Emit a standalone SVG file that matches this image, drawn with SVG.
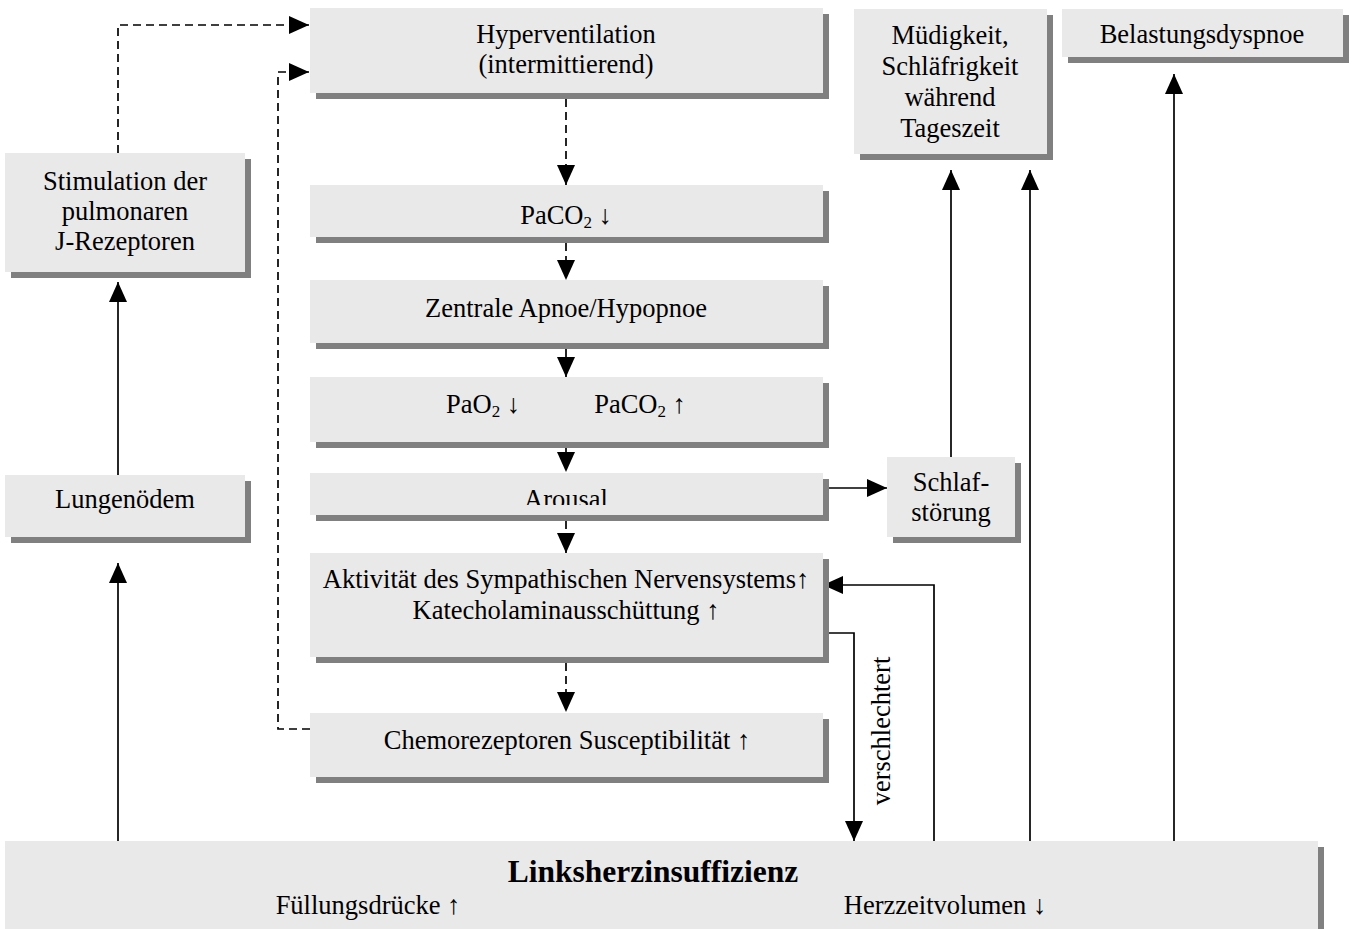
<svg xmlns="http://www.w3.org/2000/svg" width="1354" height="929" viewBox="0 0 1354 929">
<style>
.box{fill:#e9e9e9}
.sh{fill:#808080}
text{font-family:"Liberation Serif","Times New Roman",serif;font-size:26.5px;fill:#000;text-anchor:middle}
.b{font-weight:bold;font-size:31.5px}
.ln{fill:none;stroke:#000;stroke-width:1.7}
.d{stroke-dasharray:8 5}
</style>
<defs>
<marker id="ah" markerUnits="userSpaceOnUse" markerWidth="20" markerHeight="18" refX="20" refY="9" orient="auto" viewBox="0 0 20 18">
<path d="M0,0 L20,9 L0,18 Z" fill="#000"/>
</marker>
<clipPath id="arClip"><rect x="310" y="473" width="513" height="32"/></clipPath>
</defs>
<rect width="1354" height="929" fill="#fff"/>

<g id="connectors">
<path class="ln d" d="M118,153 V25 H309" marker-end="url(#ah)"/>
<path class="ln d" d="M310,729 H278 V72 H309" marker-end="url(#ah)"/>
<path class="ln d" d="M566,99 V185" marker-end="url(#ah)"/>
<path class="ln d" d="M566,243 V280" marker-end="url(#ah)"/>
<path class="ln d" d="M566,349 V377" marker-end="url(#ah)"/>
<path class="ln d" d="M566,448 V472" marker-end="url(#ah)"/>
<path class="ln d" d="M566,521 V553" marker-end="url(#ah)"/>
<path class="ln d" d="M566,663 V712" marker-end="url(#ah)"/>
<path class="ln" d="M823,488 H887" marker-end="url(#ah)"/>
<path class="ln" d="M951,457 V170" marker-end="url(#ah)"/>
<path class="ln" d="M1030,842 V170" marker-end="url(#ah)"/>
<path class="ln" d="M1174,842 V74" marker-end="url(#ah)"/>
<path class="ln" d="M934,842 V585 H823" marker-end="url(#ah)"/>
<path class="ln" d="M823,633 H854 V841" marker-end="url(#ah)"/>
<path class="ln" d="M118,842 V563" marker-end="url(#ah)"/>
<path class="ln" d="M118,475 V282" marker-end="url(#ah)"/>
<text transform="translate(890,731) rotate(-90)">verschlechtert</text>
</g>

<g id="hyperventilation">
<rect class="sh" x="316" y="14" width="513" height="85"/>
<rect class="box" x="310" y="8" width="513" height="85"/>
<text x="566" y="43">Hyperventilation</text>
<text x="566" y="73">(intermittierend)</text>
</g>

<g id="paco2-down">
<rect class="sh" x="316" y="191" width="513" height="52"/>
<rect class="box" x="310" y="185" width="513" height="52"/>
<text x="566" y="224">PaCO<tspan font-size="17" dy="4">2</tspan><tspan dy="-4"> ↓</tspan></text>
</g>

<g id="zentrale-apnoe">
<rect class="sh" x="316" y="286" width="513" height="63"/>
<rect class="box" x="310" y="280" width="513" height="63"/>
<text x="566" y="317">Zentrale Apnoe/Hypopnoe</text>
</g>

<g id="pao2-paco2">
<rect class="sh" x="316" y="383" width="513" height="65"/>
<rect class="box" x="310" y="377" width="513" height="65"/>
<text x="483" y="413">PaO<tspan font-size="17" dy="4">2</tspan><tspan dy="-4"> ↓</tspan></text>
<text x="640" y="413">PaCO<tspan font-size="17" dy="4">2</tspan><tspan dy="-4"> ↑</tspan></text>
</g>

<g id="arousal">
<rect class="sh" x="316" y="479" width="513" height="42"/>
<rect class="box" x="310" y="473" width="513" height="42"/>
<text x="566" y="508" clip-path="url(#arClip)">Arousal</text>
</g>

<g id="sympathikus">
<rect class="sh" x="316" y="559" width="513" height="104"/>
<rect class="box" x="310" y="553" width="513" height="104"/>
<text x="566" y="588">Aktivität des Sympathischen Nervensystems↑</text>
<text x="566" y="619">Katecholaminausschüttung ↑</text>
</g>

<g id="chemorezeptoren">
<rect class="sh" x="316" y="719" width="513" height="64"/>
<rect class="box" x="310" y="713" width="513" height="64"/>
<text x="567" y="749">Chemorezeptoren Susceptibilität ↑</text>
</g>

<g id="j-rezeptoren">
<rect class="sh" x="11" y="159" width="240" height="119"/>
<rect class="box" x="5" y="153" width="240" height="119"/>
<text x="125" y="190">Stimulation der</text>
<text x="125" y="220">pulmonaren</text>
<text x="125" y="250">J-Rezeptoren</text>
</g>

<g id="lungenoedem">
<rect class="sh" x="11" y="481" width="240" height="62"/>
<rect class="box" x="5" y="475" width="240" height="62"/>
<text x="125" y="508">Lungenödem</text>
</g>

<g id="schlafstoerung">
<rect class="sh" x="893" y="463" width="128" height="80"/>
<rect class="box" x="887" y="457" width="128" height="80"/>
<text x="951" y="491">Schlaf-</text>
<text x="951" y="521">störung</text>
</g>

<g id="muedigkeit">
<rect class="sh" x="860" y="15" width="193" height="145"/>
<rect class="box" x="854" y="9" width="193" height="145"/>
<text x="950" y="44">Müdigkeit,</text>
<text x="950" y="75">Schläfrigkeit</text>
<text x="950" y="106">während</text>
<text x="950" y="137">Tageszeit</text>
</g>

<g id="belastungsdyspnoe">
<rect class="sh" x="1068" y="15" width="281" height="48"/>
<rect class="box" x="1062" y="9" width="281" height="48"/>
<text x="1202" y="43">Belastungsdyspnoe</text>
</g>

<g id="linksherzinsuffizienz">
<rect class="sh" x="11" y="847" width="1313" height="95"/>
<rect class="box" x="5" y="841" width="1313" height="95"/>
<text class="b" x="653" y="882">Linksherzinsuffizienz</text>
<text x="368" y="914">Füllungsdrücke ↑</text>
<text x="945" y="914">Herzzeitvolumen ↓</text>
</g>
</svg>
